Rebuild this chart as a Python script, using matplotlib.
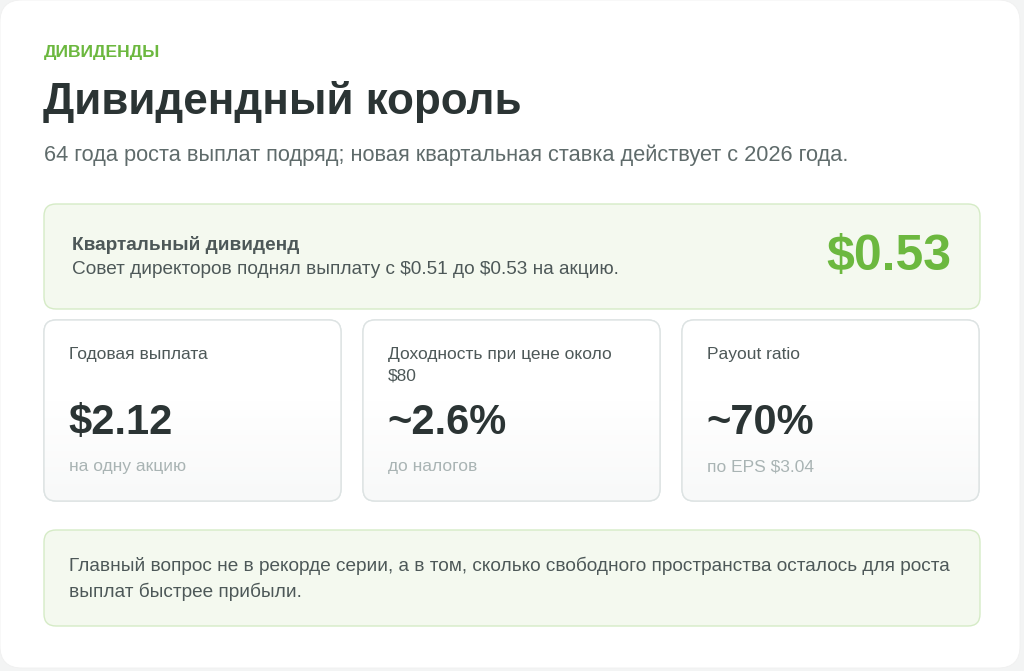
import numpy as np
import matplotlib
matplotlib.use("Agg")
import matplotlib.pyplot as plt
from matplotlib.patches import FancyBboxPatch

plt.rcParams['font.family'] = ['Liberation Sans', 'DejaVu Sans']
plt.rcParams['text.parse_math'] = False

# texts and values
kicker = "ДИВИДЕНДЫ"
title = "Дивидендный король"
subtitle = "64 года роста выплат подряд; новая квартальная ставка действует с 2026 года."
hero_label = "Квартальный дивиденд"
hero_text = "Совет директоров поднял выплату с $0.51 до $0.53 на акцию."
hero_value = "$0.53"
card_labels = ["Годовая выплата", "Доходность при цене около\n$80", "Payout ratio"]
card_values = ["$2.12", "~2.6%", "~70%"]
card_notes = ["на одну акцию", "до налогов", "по EPS $3.04"]
footer_text = ("Главный вопрос не в рекорде серии, а в том, сколько свободного пространства осталось для роста\n"
               "выплат быстрее прибыли.")

GREEN = "#6cb83f"
DARK = "#2b3434"
MID = "#4d5858"
SUB = "#5f6b6b"
LIGHT = "#a9b4b4"
PX = 0.72  # px -> pt at dpi 100

W, H = 1024, 671
fig = plt.figure(figsize=(W / 100, H / 100), dpi=100)
fig.patch.set_facecolor("#f3f4f4")
ax = fig.add_axes([0, 0, 1, 1])
ax.set_xlim(0, W)
ax.set_ylim(H, 0)
ax.axis("off")


def box(x0, y0, x1, y1, fc, ec, r=10, z=1, lw=1.0):
    p = FancyBboxPatch((x0, y0), x1 - x0, y1 - y0,
                       boxstyle="round,pad=0,rounding_size=%d" % r,
                       fc=fc, ec=ec, lw=lw, zorder=z)
    ax.add_patch(p)
    return p


# white card
box(0, 0, 1020, 668, "white", "#f0f0f0", r=22, z=0, lw=0.6)

ax.text(44, 53, kicker, color=GREEN, fontsize=17.5 * PX, fontweight="bold", va="center")
ax.text(43, 102, title, color=DARK, fontsize=44 * PX, fontweight="bold", va="center")
ax.text(44, 155, subtitle, color=SUB, fontsize=21.8 * PX, va="center")

# hero box
box(44, 204, 980, 309, "#f4f9ef", "#d5ebc6", r=12)
ax.text(72, 245, hero_label, color=MID, fontsize=19 * PX, fontweight="bold", va="center")
ax.text(72, 270, hero_text, color=MID, fontsize=19 * PX, va="center")
ax.text(951, 257, hero_value, color=GREEN, fontsize=50 * PX, fontweight="bold",
        va="center", ha="right")

# metric cards
card_x = [44, 363, 682]
card_w = 297
grad = np.linspace(0, 1, 256).reshape(-1, 1)
grad = np.clip((grad - 0.45) / 0.55, 0, 1)
cmap = matplotlib.colors.LinearSegmentedColormap.from_list("g", ["#ffffff", "#f8f9f9"])
for i in range(len(card_labels)):
    x0 = card_x[i]
    p = box(x0, 320, x0 + card_w, 501, "white", "#dde3e3", r=12, z=1)
    im = ax.imshow(grad, extent=(x0, x0 + card_w, 501, 320), cmap=cmap, aspect="auto",
                   zorder=1.5, interpolation="bilinear")
    im.set_clip_path(p)
    ax.add_patch(FancyBboxPatch((x0, 320), card_w, 181,
                                boxstyle="round,pad=0,rounding_size=12",
                                fc="none", ec="#dde3e3", lw=1.0, zorder=2))
    ax.text(x0 + 25, 347, card_labels[i], color=MID, fontsize=17.4 * PX, va="top",
            linespacing=1.5, zorder=3)
    ax.text(x0 + 24, 423, card_values[i], color=DARK, fontsize=41.6 * PX, fontweight="bold",
            va="center", zorder=3)
    ax.text(x0 + 25, 467, card_notes[i], color=LIGHT, fontsize=17.4 * PX, va="center", zorder=3)

# footer box
box(44, 530, 980, 626, "#f4f9ef", "#d5ebc6", r=12)
ax.text(69, 579, footer_text, color=MID, fontsize=19 * PX, va="center", linespacing=1.58)

fig.savefig("out.png", dpi=100, facecolor=fig.get_facecolor())
